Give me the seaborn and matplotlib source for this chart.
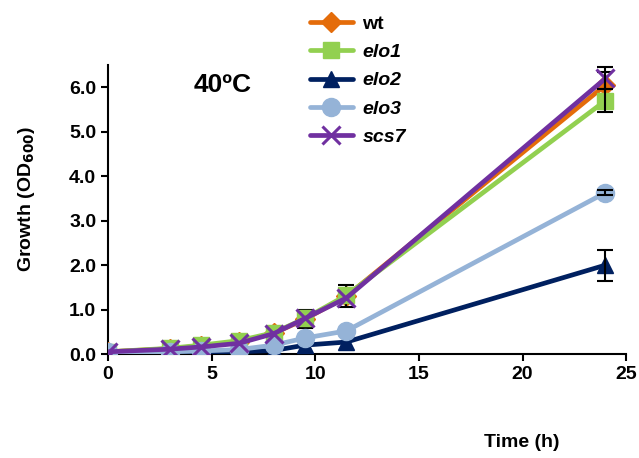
import matplotlib
matplotlib.use("Agg")
import matplotlib.pyplot as plt
import seaborn as sns
import pandas as pd
from matplotlib.ticker import FormatStrFormatter

sns.set_theme(style="ticks")
plt.rcParams["font.family"] = ["Liberation Sans", "DejaVu Sans"]
plt.rcParams["font.weight"] = "bold"
for key in ["text.color", "axes.labelcolor", "xtick.color", "ytick.color",
            "axes.edgecolor"]:
    plt.rcParams[key] = "black"

# Sampling times (h)
time_h = [0, 3, 4.5, 6.3, 8, 9.5, 11.5, 24]

# OD600 readings per strain
wt   = [0.05, 0.12, 0.18, 0.27, 0.47, 0.78, 1.30, 6.05]
elo1 = [0.05, 0.13, 0.20, 0.30, 0.48, 0.80, 1.32, 5.70]
elo2 = [0.03, 0.02, 0.03, 0.05, 0.08, 0.20, 0.27, 2.00]
elo3 = [0.05, 0.05, 0.07, 0.10, 0.20, 0.36, 0.52, 3.63]
scs7 = [0.05, 0.11, 0.16, 0.24, 0.46, 0.80, 1.26, 6.20]

# Standard deviations
wt_sd   = [0.0, 0.0, 0.0, 0.0, 0.0, 0.20, 0.25, 0.30]
elo1_sd = [0.0, 0.0, 0.0, 0.0, 0.0, 0.0, 0.0, 0.25]
elo2_sd = [0.0, 0.0, 0.0, 0.0, 0.0, 0.0, 0.0, 0.35]
elo3_sd = [0.0, 0.0, 0.0, 0.0, 0.0, 0.0, 0.0, 0.05]
scs7_sd = [0.0, 0.0, 0.0, 0.0, 0.0, 0.0, 0.0, 0.25]

strains = ["wt", "elo1", "elo2", "elo3", "scs7"]
values = [wt, elo1, elo2, elo3, scs7]
errors = [wt_sd, elo1_sd, elo2_sd, elo3_sd, scs7_sd]
colors = ["#E46C0A", "#92D050", "#002060", "#95B3D7", "#7030A0"]
markers = ["D", "s", "^", "o", "x"]
msizes = [10, 11, 12, 13, 13]

fig = plt.figure(figsize=(6.39, 4.58), dpi=100)
ax = fig.add_axes([0.169, 0.227, 0.811, 0.631])

for i, (name, vals, sd, col, mk, ms) in enumerate(
        zip(strains, values, errors, colors, markers, msizes)):
    df = pd.DataFrame({"time": time_h, "od": vals})
    sns.lineplot(data=df, x="time", y="od", ax=ax, color=col, marker=mk,
                 markersize=ms, markeredgecolor=col,
                 markeredgewidth=2.2 if mk == "x" else 1,
                 linewidth=3.4, label=name, zorder=3 + 2 * i)
    pts = [(t, v, e) for t, v, e in zip(time_h, vals, sd) if e > 0]
    if pts:
        ax.errorbar([p[0] for p in pts], [p[1] for p in pts],
                    yerr=[p[2] for p in pts], fmt="none", ecolor="black",
                    elinewidth=1.5, capsize=6, capthick=1.5, zorder=4 + 2 * i)

ax.set_xlim(0, 25)
ax.set_ylim(0, 6.5)
ax.set_xticks([0, 5, 10, 15, 20, 25])
ax.set_yticks([0, 1, 2, 3, 4, 5, 6])
ax.yaxis.set_major_formatter(FormatStrFormatter("%.1f"))
ax.tick_params(axis="both", direction="out", length=5, width=1.5,
               labelsize=14, colors="black")
for lab in ax.get_xticklabels() + ax.get_yticklabels():
    lab.set_fontweight("bold")
for s in ["left", "bottom"]:
    ax.spines[s].set_linewidth(1.5)
    ax.spines[s].set_color("black")
for s in ["top", "right"]:
    ax.spines[s].set_visible(False)
ax.set_xlabel("")
ax.set_ylabel("")

fig.text(0.041, 0.565, r"Growth (OD$_{\mathbf{600}}$)", fontsize=14,
         fontweight="bold", rotation=90, ha="center", va="center")
ax.text(0.165, 0.93, "40ºC", transform=ax.transAxes, fontsize=19,
        fontweight="bold", ha="left", va="center")
fig.text(0.817, 0.033, "Time (h)", fontsize=14, fontweight="bold",
         ha="center", va="center")

handles, labels = ax.get_legend_handles_labels()
if ax.get_legend():
    ax.get_legend().remove()
leg = fig.legend(handles, labels, loc="upper left",
                 bbox_to_anchor=(0.473, 0.984), frameon=False,
                 fontsize=14, handlelength=2.2, labelspacing=0.55,
                 handletextpad=0.5, borderaxespad=0)
for txt in leg.get_texts():
    txt.set_fontweight("bold")
    if txt.get_text() != "wt":
        txt.set_style("italic")

fig.savefig("out.png", dpi=100)
